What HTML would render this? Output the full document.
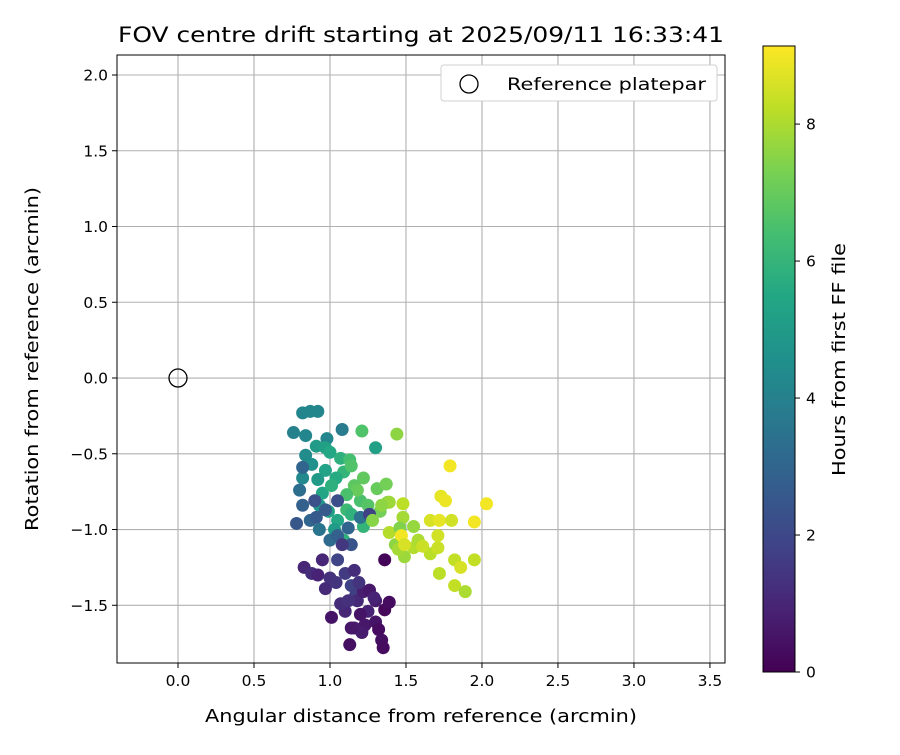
<!DOCTYPE html>
<html><head><meta charset="utf-8"><style>body{margin:0;background:#fff}svg text{font-family:"DejaVu Sans","Liberation Sans",sans-serif;fill:#000}</style></head>
<body>
<svg id="chart" width="900" height="750" xmlns="http://www.w3.org/2000/svg"></svg>
<script>
const xs=[0.82,0.87,0.92,0.76,0.84,0.98,1.08,1.21,1.44,1.30,
0.91,0.97,1.00,1.07,1.13,1.09,1.04,0.97,0.92,0.95,1.01,1.14,1.16,1.22,1.20,1.25,1.11,1.14,1.05,0.99,0.93,1.03,1.09,1.22,1.31,1.37,1.33,1.38,1.18,1.11,0.88,0.84,0.82,
0.82,0.80,0.82,0.78,0.87,0.91,0.93,1.00,1.05,1.12,1.14,1.20,1.26,0.90,0.97,1.05,1.08,
0.83,0.88,0.92,0.95,1.00,0.97,1.04,1.10,1.16,1.14,1.09,1.17,1.10,1.18,1.22,1.26,1.30,1.25,1.20,1.16,1.13,1.23,1.30,1.32,1.34,1.36,1.39,1.29,1.01,1.07,1.19,1.35,1.21,1.36,1.14,1.12,1.05,
1.39,1.48,1.39,1.48,1.43,1.49,1.45,1.55,1.58,1.66,1.72,1.82,1.89,1.55,1.34,1.28,1.46,
1.79,1.73,1.76,2.03,1.95,1.66,1.72,1.80,1.71,1.71,1.47,1.82,1.95,1.86,1.61,1.49];
const ys=[-0.23,-0.22,-0.22,-0.36,-0.38,-0.40,-0.34,-0.35,-0.37,-0.46,
-0.45,-0.46,-0.49,-0.53,-0.54,-0.62,-0.66,-0.61,-0.67,-0.76,-0.71,-0.58,-0.71,-0.66,-0.81,-0.84,-0.87,-0.90,-0.94,-0.88,-0.84,-1.00,-1.07,-0.98,-0.73,-0.70,-0.88,-0.82,-0.74,-0.77,-0.57,-0.51,-0.66,
-0.59,-0.74,-0.84,-0.96,-0.94,-0.92,-1.00,-1.07,-1.04,-0.99,-1.10,-0.92,-0.90,-0.81,-0.87,-0.81,-1.10,
-1.25,-1.29,-1.30,-1.20,-1.32,-1.39,-1.35,-1.29,-1.27,-1.37,-1.49,-1.43,-1.54,-1.47,-1.41,-1.40,-1.47,-1.54,-1.56,-1.65,-1.76,-1.63,-1.61,-1.66,-1.73,-1.53,-1.48,-1.45,-1.58,-1.49,-1.35,-1.78,-1.68,-1.20,-1.65,-1.47,-1.20,
-0.82,-0.92,-1.02,-0.83,-1.10,-1.18,-1.13,-1.12,-1.07,-1.16,-1.29,-1.37,-1.41,-0.98,-0.84,-0.94,-0.99,
-0.58,-0.78,-0.81,-0.83,-0.95,-0.94,-0.94,-0.94,-1.04,-1.12,-1.04,-1.20,-1.20,-1.25,-1.11,-1.10];
const ts=[4.2,4.2,4.2,4.0,4.2,4.2,3.8,6.6,7.6,5.2,
5.0,5.2,5.5,5.8,6.4,6.0,5.6,5.3,5.0,5.4,5.8,6.6,6.8,6.9,6.5,6.7,6.2,5.9,5.5,5.2,4.8,5.0,5.8,6.0,7.0,7.2,7.2,7.4,7.0,6.5,4.6,4.4,4.3,
3.0,3.3,2.8,2.5,3.0,2.6,3.5,3.2,2.8,3.0,2.4,3.4,1.8,2.3,2.6,2.2,1.5,
1.0,1.2,0.9,1.0,1.3,1.1,1.4,1.6,1.2,1.8,0.9,1.7,1.0,1.1,0.8,0.6,0.7,0.9,0.5,0.8,0.4,0.6,0.5,0.3,0.4,0.2,0.3,0.9,0.5,1.2,1.4,0.3,0.7,0.1,0.6,1.3,1.9,
7.8,7.9,8.1,8.2,7.6,7.8,7.9,8.1,8.0,8.2,8.2,8.3,8.0,7.7,7.6,7.5,7.4,
9.0,8.8,8.9,9.0,9.0,8.6,8.8,8.5,8.5,8.4,9.0,8.3,8.3,8.6,8.4,8.6];
const xTicks=[0,0.5,1,1.5,2,2.5,3,3.5];
const yTicks=[-1.5,-1,-0.5,0,0.5,1,1.5,2];
const cTicks=[0,2,4,6,8];
const X0=117,X1=725,Y0=55,Y1=663;
const xMin=-0.4013,xMax=3.599,yMin=-1.881,yMax=2.132,tMax=9.14;
const sx=v=>X0+(v-xMin)/(xMax-xMin)*(X1-X0);
const sy=v=>Y1-(v-yMin)/(yMax-yMin)*(Y1-Y0);
const CB={x:763,w:32,top:46,bot:672};
const sc=v=>CB.bot-v/tMax*(CB.bot-CB.top);
const vir=[[68,1,84],[72,35,116],[64,67,135],[52,94,141],[41,120,142],[32,144,140],[34,167,132],[68,190,112],[121,209,81],[189,222,38],[253,231,37]];
function viridis(f){f=Math.max(0,Math.min(1,f));const p=f*(vir.length-1),i=Math.min(vir.length-2,Math.floor(p)),u=p-i;const a=vir[i],b=vir[i+1];return `rgb(${a.map((c,k)=>Math.round(c+(b[k]-c)*u)).join(',')})`;}
const svg=document.getElementById('chart');const NS='http://www.w3.org/2000/svg';
function el(t,a,txt){const e=document.createElementNS(NS,t);for(const k in a)e.setAttribute(k,a[k]);if(txt!=null)e.textContent=txt;svg.appendChild(e);return e;}
let e;
e=el('rect',{x:X0,y:Y0,width:X1-X0,height:Y1-Y0,fill:'#fff'});


xTicks.forEach(v=>{const x=sx(v);
e=el('line',{x1:x,x2:x,y1:Y0,y2:Y1,stroke:'#b0b0b0','stroke-width':1.1});


el('line',{x1:x,x2:x,y1:Y1,y2:Y1+5,stroke:'#000'});
e=el('text',{x:x,y:Y1+23,'text-anchor':'middle','font-size':15.5},v.toFixed(1));

});
yTicks.forEach(v=>{const y=sy(v);
e=el('line',{x1:X0,x2:X1,y1:y,y2:y,stroke:'#b0b0b0','stroke-width':1.1});


el('line',{x1:X0-5,x2:X0,y1:y,y2:y,stroke:'#000'});
e=el('text',{x:X0-9,y:y+5.5,'text-anchor':'end','font-size':15.5},(v<0?'\u2212':'')+Math.abs(v).toFixed(1));

});
xs.forEach((v,i)=>{e=el('circle',{cx:sx(v),cy:sy(ys[i]),r:6.5,fill:viridis(ts[i]/tMax)});

});
e=el('circle',{cx:sx(0),cy:sy(0),r:9,fill:'none',stroke:'#000','stroke-width':1.3});


e=el('rect',{x:X0,y:Y0,width:X1-X0,height:Y1-Y0,fill:'none',stroke:'#000','stroke-width':1});


e=el('text',{x:118,y:42,'font-size':21,textLength:606,lengthAdjust:'spacingAndGlyphs'},'FOV centre drift starting at 2025/09/11 16:33:41');


e=el('text',{x:205,y:722,'font-size':17.5,textLength:432,lengthAdjust:'spacingAndGlyphs'},'Angular distance from reference (arcmin)');


e=el('text',{x:38,y:531,'font-size':17.5,textLength:344,lengthAdjust:'spacingAndGlyphs',transform:'rotate(-90 38 531)'},'Rotation from reference (arcmin)');


e=el('rect',{x:441,y:65,width:276,height:36,rx:3,fill:'#fff',stroke:'#d0d0d0'});


e=el('circle',{cx:469,cy:84,r:9,fill:'none',stroke:'#000','stroke-width':1.3});


e=el('text',{x:507,y:90,'font-size':17,textLength:199,lengthAdjust:'spacingAndGlyphs'},'Reference platepar');


const defs=el('defs',{});const g=document.createElementNS(NS,'linearGradient');g.setAttribute('id','vg');g.setAttribute('x1','0');g.setAttribute('y1','1');g.setAttribute('x2','0');g.setAttribute('y2','0');defs.appendChild(g);
vir.forEach((c,i)=>{const s=document.createElementNS(NS,'stop');s.setAttribute('offset',i/(vir.length-1));s.setAttribute('stop-color',`rgb(${c.join(',')})`);g.appendChild(s);});
e=el('rect',{x:CB.x,y:CB.top,width:CB.w,height:CB.bot-CB.top,fill:'url(#vg)',stroke:'#000','stroke-width':1});


cTicks.forEach(v=>{const y=sc(v);el('line',{x1:CB.x+CB.w,x2:CB.x+CB.w+5,y1:y,y2:y,stroke:'#000'});
e=el('text',{x:CB.x+CB.w+11,y:y+5.5,'font-size':15.5},String(v));

});
e=el('text',{x:845,y:476,'font-size':17.5,textLength:233,lengthAdjust:'spacingAndGlyphs',transform:'rotate(-90 845 476)'},'Hours from first FF file');


</script>
</body></html>
